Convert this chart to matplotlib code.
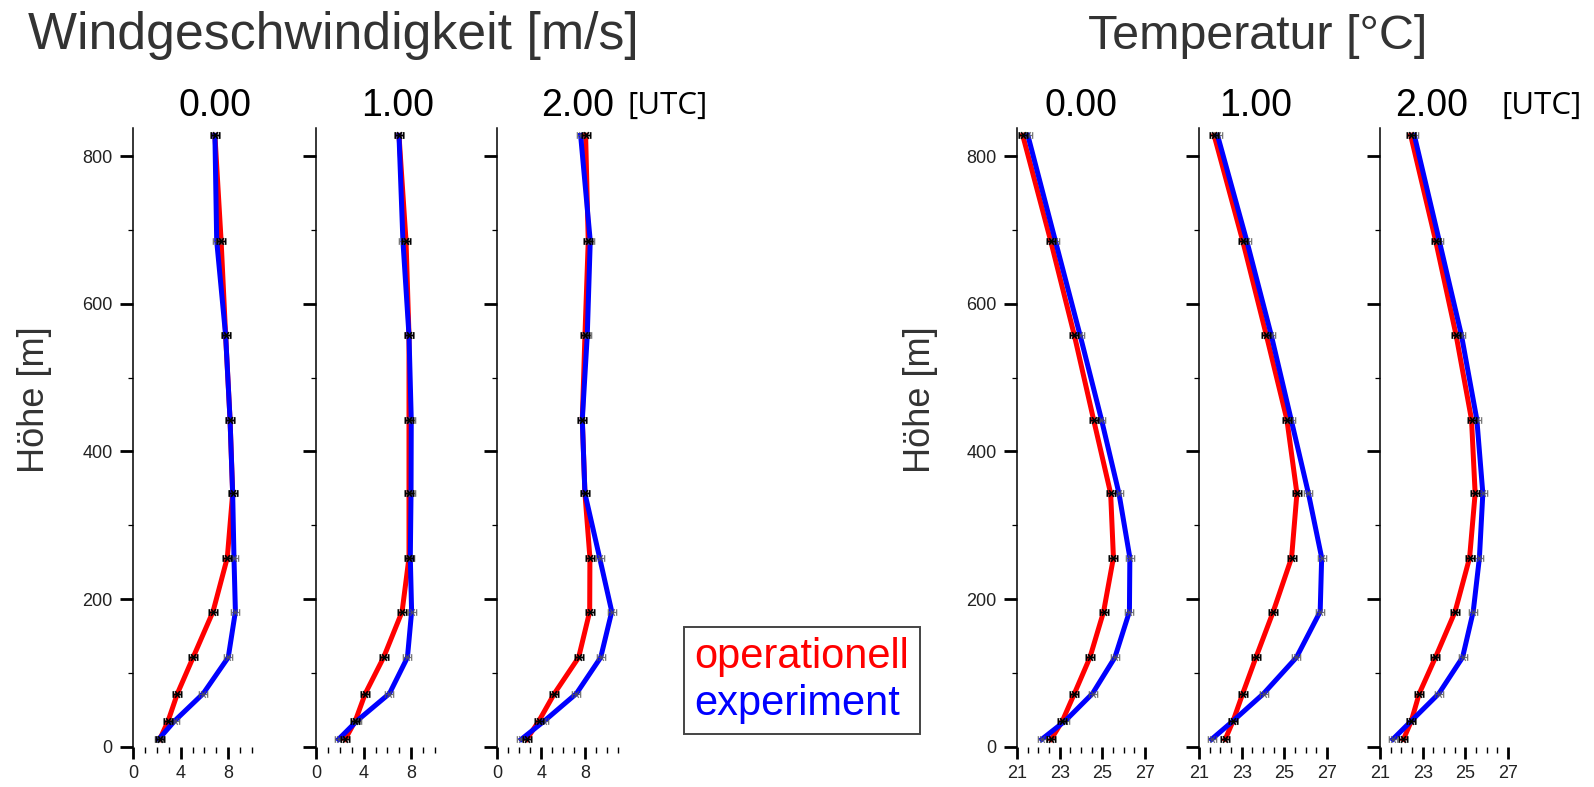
import matplotlib
matplotlib.use("Agg")
import matplotlib.pyplot as plt
from matplotlib.path import Path
from matplotlib.lines import Line2D
from matplotlib.ticker import MultipleLocator, FixedLocator

plt.rcParams['font.family'] = ['Liberation Sans', 'DejaVu Sans']

# Model level heights [m]
hoehe = [10, 35, 72, 121, 183, 256, 343, 443, 557, 685, 828]
zeiten = ["0.00", "1.00", "2.00"]

# Wind speed [m/s], bottom to top
wind_op_00 = [2.25, 2.95, 3.73, 5.05, 6.72, 7.92, 8.37, 8.15, 7.78, 7.40, 6.88]
wind_ex_00 = [2.15, 3.50, 5.90, 8.00, 8.60, 8.48, 8.37, 8.15, 7.78, 7.03, 6.88]
wind_op_01 = [2.45, 3.30, 4.14, 5.68, 7.23, 7.81, 7.81, 7.81, 7.81, 7.56, 6.97]
wind_ex_01 = [1.89, 3.44, 6.17, 7.68, 8.03, 7.92, 7.98, 8.00, 7.81, 7.30, 6.97]
wind_op_02 = [2.70, 3.80, 5.20, 7.40, 8.40, 8.42, 7.97, 7.73, 7.97, 8.27, 8.03]
wind_ex_02 = [2.20, 4.30, 7.20, 9.40, 10.40, 9.30, 7.97, 7.73, 8.18, 8.45, 7.58]

# Temperature [°C], bottom to top
temp_op_00 = [22.60, 23.13, 23.69, 24.42, 25.06, 25.52, 25.39, 24.59, 23.69, 22.58, 21.27]
temp_ex_00 = [22.16, 23.26, 24.54, 25.59, 26.27, 26.29, 25.78, 24.96, 23.96, 22.80, 21.51]
temp_op_01 = [22.23, 22.60, 23.05, 23.67, 24.48, 25.34, 25.59, 25.12, 24.16, 23.05, 21.71]
temp_ex_01 = [21.59, 22.60, 24.03, 25.57, 26.68, 26.75, 26.13, 25.32, 24.39, 23.24, 21.87]
temp_op_02 = [22.10, 22.47, 22.84, 23.60, 24.52, 25.20, 25.46, 25.29, 24.57, 23.61, 22.44]
temp_ex_02 = [21.60, 22.47, 23.76, 24.87, 25.37, 25.66, 25.82, 25.54, 24.82, 23.78, 22.61]

wind_op = [wind_op_00, wind_op_01, wind_op_02]
wind_ex = [wind_ex_00, wind_ex_01, wind_ex_02]
temp_op = [temp_op_00, temp_op_01, temp_op_02]
temp_ex = [temp_ex_00, temp_ex_01, temp_ex_02]

wind_xlim = [(0, 10.75), (0, 10.75), (0, 11.6)]
temp_xlim = [(21, 27), (21, 27), (21, 27)]

W, H = 1594, 787
fig = plt.figure(figsize=(W / 100, H / 100), dpi=100)

BOT_PX, TOP_PX = 746.7, 128.0
AX_W = 128.0


def add_panel(left_px):
    return fig.add_axes([left_px / W, (H - BOT_PX) / H, AX_W / W, (BOT_PX - TOP_PX) / H])


# marker: cross with a bar and end caps
_v = [(-1, -0.8), (-1, 0.8), (1, -0.8), (1, 0.8), (-1, 0), (1, 0),
      (-0.55, -0.8), (0.55, 0.8), (-0.55, 0.8), (0.55, -0.8)]
_c = [Path.MOVETO, Path.LINETO] * 5
MARK = Path(_v, _c)


def style(ax, show_ylabels):
    for s in ("top", "right", "bottom"):
        ax.spines[s].set_visible(False)
    ax.spines["left"].set_linewidth(1.1)
    ax.set_ylim(0, 838)
    ax.yaxis.set_major_locator(MultipleLocator(200))
    ax.yaxis.set_minor_locator(MultipleLocator(100))
    ax.tick_params(axis="y", which="major", length=9.5, width=2.0, direction="out",
                   labelsize=13, pad=5, labelleft=show_ylabels, labelcolor="#222222")
    ax.tick_params(axis="y", which="minor", length=3.8, width=0.9, direction="out")
    ax.tick_params(axis="x", which="major", length=8.5, width=2.0, direction="out",
                   labelsize=13, pad=5, labelcolor="#222222")
    ax.tick_params(axis="x", which="minor", length=4.3, width=1.0, direction="out")
    ax.patch.set_alpha(0)


def draw_profiles(ax, op, ex):
    ax.plot(op, hoehe, color="#ff0000", lw=3.6, solid_joinstyle="round", zorder=2)
    ax.plot(ex, hoehe, color="#0000ff", lw=3.6, solid_joinstyle="round", zorder=3)
    ax.plot(ex, hoehe, ls="none", marker=MARK, ms=6, mew=0.9, mec="#555555",
            mfc="none", alpha=0.8, zorder=4)
    ax.plot(op, hoehe, ls="none", marker=MARK, ms=6, mew=1.2, mec="black",
            mfc="none", zorder=5)


wind_left = [133, 316, 497]
temp_left = [1017, 1199, 1380]

for i in range(3):
    ax = add_panel(wind_left[i])
    draw_profiles(ax, wind_op[i], wind_ex[i])
    style(ax, i == 0)
    ax.set_xlim(*wind_xlim[i])
    ax.xaxis.set_major_locator(FixedLocator([0, 4, 8]))
    ax.xaxis.set_minor_locator(MultipleLocator(1))

for i in range(3):
    ax = add_panel(temp_left[i])
    draw_profiles(ax, temp_op[i], temp_ex[i])
    style(ax, i == 0)
    ax.set_xlim(*temp_xlim[i])
    ax.xaxis.set_major_locator(FixedLocator([21, 23, 25, 27]))
    ax.xaxis.set_minor_locator(MultipleLocator(0.5))

# headings
fig.text(333 / W, 1 - 49 / H, "Windgeschwindigkeit [m/s]", ha="center", va="baseline",
         fontsize=37.4, color="#333333")
fig.text(1258 / W, 1 - 49 / H, "Temperatur [°C]", ha="center", va="baseline",
         fontsize=34.8, color="#333333")

wind_title_x = [215, 397.5, 578]
temp_title_x = [1081, 1255.5, 1432]
for i in range(3):
    fig.text(wind_title_x[i] / W, 1 - 116 / H, zeiten[i], ha="center", va="baseline",
             fontsize=27, color="black")
    fig.text(temp_title_x[i] / W, 1 - 116 / H, zeiten[i], ha="center", va="baseline",
             fontsize=27, color="black")
fig.text(628 / W, 1 - 114 / H, "[UTC]", ha="left", va="baseline", fontsize=22.5,
         family=["Open Sans", "DejaVu Sans"], color="black")
fig.text(1502 / W, 1 - 114 / H, "[UTC]", ha="left", va="baseline", fontsize=22.5,
         family=["Open Sans", "DejaVu Sans"], color="black")

fig.text(35 / W, 1 - 400 / H, "Höhe [m]", rotation=90, ha="center", va="center",
         fontsize=26, color="#333333")
fig.text(920 / W, 1 - 400 / H, "Höhe [m]", rotation=90, ha="center", va="center",
         fontsize=26, color="#333333")

# legend
handles = [Line2D([], [], ls="none", color="#ff0000"),
           Line2D([], [], ls="none", color="#0000ff")]
leg = fig.legend(handles, ["operationell", "experiment"], loc="lower left",
                 bbox_to_anchor=(684 / W, 1 - 734 / H), borderaxespad=0,
                 fontsize=30, handlelength=0, handletextpad=0, labelcolor="linecolor",
                 borderpad=0.25, labelspacing=0.15, fancybox=False, framealpha=1)
leg.get_frame().set_edgecolor("#444444")
leg.get_frame().set_linewidth(1.4)

fig.savefig("out.png", dpi=100)
